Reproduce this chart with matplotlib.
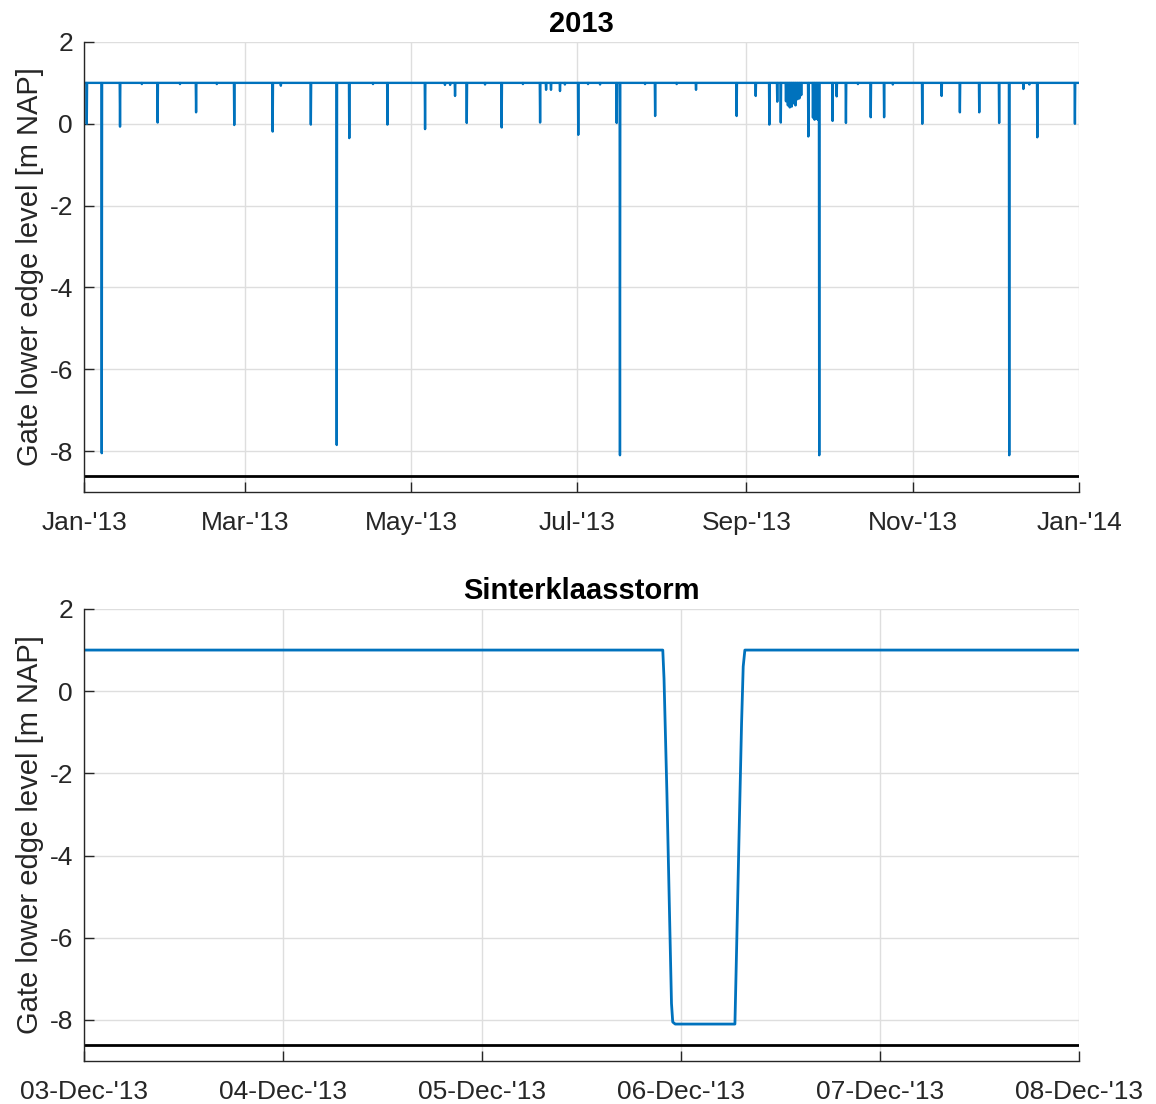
import numpy as np
import matplotlib
matplotlib.use('Agg')
import matplotlib.pyplot as plt
import matplotlib.dates as mdates
from datetime import datetime

# 2013: gate closures / lowerings (day of year, lowest level in m NAP)
spike_day = [1.0, 6.5, 13.2, 21.2, 27.0, 35.2, 41.1, 48.7, 55.1, 69.2, 72.2, 83.2,
             92.7, 97.3, 106.0, 111.3, 125.1, 132.4, 134.3, 136.1, 140.4, 147.1,
             153.2, 161.0, 167.3, 169.5, 171.3, 174.6, 176.4, 181.3, 184.9, 189.3,
             195.4, 196.6, 205.8, 209.5, 217.4, 224.5, 239.4, 246.4, 251.4, 254.3,
             255.6, 257.5, 258.2, 258.9, 259.6, 260.3, 261.0, 261.7, 262.4, 263.1,
             265.7, 267.4, 268.0, 268.6, 269.2, 269.7, 274.6, 276.1, 279.5, 283.9,
             288.6, 293.5, 296.7, 307.5, 314.6, 321.3, 328.4, 335.7, 339.4, 344.6,
             346.8, 349.7, 363.5]
spike_level = [0.0, -8.05, -0.07, 0.97, 0.03, 0.97, 0.28, 0.97, -0.03, -0.19, 0.93, -0.02,
               -7.85, -0.35, 0.97, -0.02, -0.13, 0.95, 0.95, 0.68, 0.02, 0.96,
               -0.09, 0.97, 0.03, 0.83, 0.83, 0.80, 0.96, -0.27, 0.97, 0.96,
               0.02, -8.1, 0.97, 0.19, 0.97, 0.83, 0.19, 0.68, -0.02, 0.54,
               0.03, 0.55, 0.45, 0.4, 0.42, 0.5, 0.45, 0.6, 0.62, 0.7,
               -0.31, 0.15, 0.1, 0.12, 0.1, -8.1, 0.07, 0.67, 0.02, 0.97,
               0.16, 0.16, 0.96, 0.0, 0.68, 0.28, 0.28, 0.02, -8.1, 0.85,
               0.96, -0.33, 0.0]
open_level = 1.0
sill_level = -8.6

# Sinterklaasstorm: hours after 03-Dec-2013 00:00
storm_hours = [0, 69.8, 69.95, 70.3, 70.6, 70.85, 71.0, 71.3, 78.5, 78.7, 79.0, 79.3, 79.5, 79.7, 120]
storm_level = [1.0, 1.0, 0.3, -2.5, -5.3, -7.6, -8.05, -8.1, -8.1, -6.3, -3.5, -0.8, 0.6, 1.0, 1.0]

blue = '#0072BD'
ax_col = '#262626'
plt.rcParams['font.family'] = ['Liberation Sans', 'DejaVu Sans']
plt.rcParams['axes.unicode_minus'] = False

t0 = mdates.date2num(datetime(2013, 1, 1))
w = 0.12
xs = [t0]
ys = [open_level]
for d, v in zip(spike_day, spike_level):
    xs += [t0 + d - w, t0 + d, t0 + d + w]
    ys += [open_level, v, open_level]
xs.append(t0 + 365)
ys.append(open_level)

s0 = mdates.date2num(datetime(2013, 12, 3))
sx = s0 + np.array(storm_hours) / 24.0

fig = plt.figure(figsize=(11.56, 11.04), dpi=100)
ax1 = fig.add_axes([0.0727, 0.5543, 0.8607, 0.4077])
ax2 = fig.add_axes([0.0727, 0.0389, 0.8607, 0.4095])


def style(ax, title):
    ax.set_ylim(-9, 2)
    ax.set_yticks([-8, -6, -4, -2, 0, 2])
    ax.grid(True, color='#dedede', linewidth=1)
    ax.set_axisbelow(True)
    for s in ['top', 'right']:
        ax.spines[s].set_visible(False)
    for s in ['left', 'bottom']:
        ax.spines[s].set_color(ax_col)
        ax.spines[s].set_linewidth(1.0)
    ax.tick_params(direction='in', length=7, width=1, color=ax_col,
                   labelcolor=ax_col, labelsize=19)
    ax.tick_params(axis='x', pad=14)
    ax.tick_params(axis='y', pad=8)
    ax.set_ylabel('Gate lower edge level [m NAP]', fontsize=21, color=ax_col, labelpad=4)
    ax.set_title(title, fontsize=21, fontweight='bold', pad=7)


ax1.plot(xs, ys, color=blue, linewidth=1.7)
ax1.axhline(sill_level, color='black', linewidth=2)
ax1.set_xlim(t0, t0 + 365)
ax1.xaxis.set_major_locator(mdates.MonthLocator(bymonth=[1, 3, 5, 7, 9, 11]))
ax1.xaxis.set_major_formatter(mdates.DateFormatter("%b-'%y"))
style(ax1, '2013')

ax2.plot(sx, storm_level, color=blue, linewidth=2)
ax2.axhline(sill_level, color='black', linewidth=2)
ax2.set_xlim(s0, s0 + 5)
ax2.xaxis.set_major_locator(mdates.DayLocator())
ax2.xaxis.set_major_formatter(mdates.DateFormatter("%d-%b-'%y"))
style(ax2, 'Sinterklaasstorm')

fig.savefig('out.png', dpi=100)
